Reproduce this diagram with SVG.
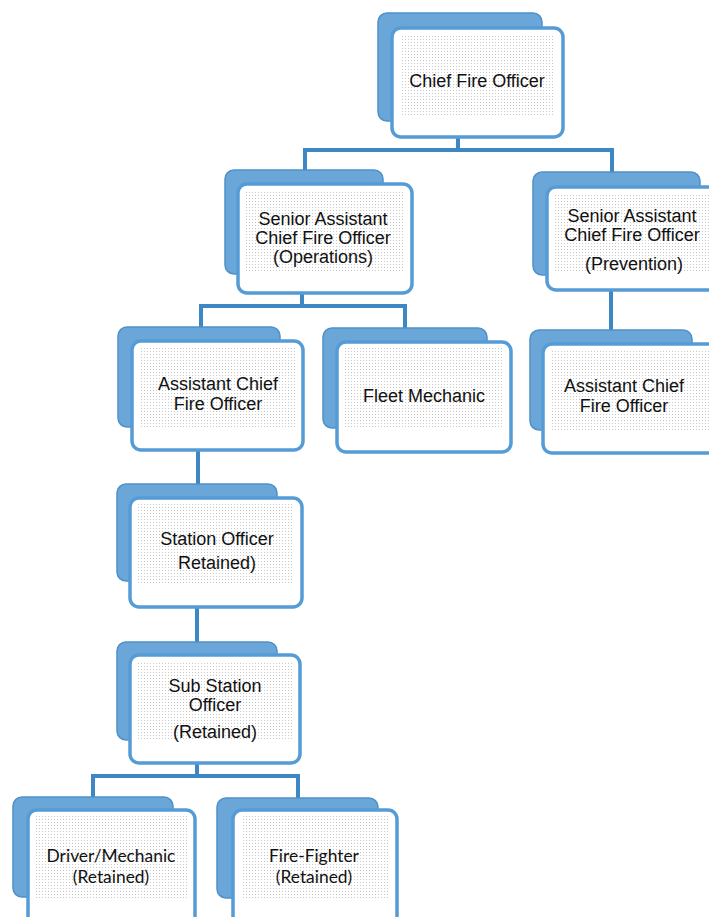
<svg xmlns="http://www.w3.org/2000/svg" width="709" height="917" viewBox="0 0 709 917">
<defs>
<pattern id="dots" width="3" height="3" patternUnits="userSpaceOnUse">
<rect x="0" y="0" width="1" height="1" fill="#c9c9c9"/>
</pattern>
</defs>
<style>
.back{fill:#6aa6d8;stroke:#4f91c8;stroke-width:1.5}
.front{fill:#ffffff;stroke:#559cd6;stroke-width:3.5}
.dot{fill:url(#dots)}
.t{font-family:"Liberation Sans",Arial,sans-serif;font-size:18px;fill:#111111;text-anchor:middle}
.c{font-family:Lato,"Open Sans",sans-serif;font-size:17.4px;fill:#111111;text-anchor:middle}
.conn{fill:none;stroke:#3d88c4;stroke-width:4}
</style>
<rect width="709" height="917" fill="#ffffff"/>
<g id="connectors">
<path class="conn" d="M458 137 V150 M305 150 H612 M305 148 V172 M612 148 V174"/>
<path class="conn" d="M302 293 V306 M201 306 H405 M201 304 V328 M405 304 V328"/>
<path class="conn" d="M611 290 V332"/>
<path class="conn" d="M198 450 V484"/>
<path class="conn" d="M197 607 V643"/>
<path class="conn" d="M197 763 V776 M93 776 H298 M93 774 V798 M298 774 V799"/>
</g>
<g id="n1">
<rect class="back" x="378" y="13" width="164" height="108" rx="9"/>
<rect class="front" x="392" y="28" width="171" height="109" rx="9"/>
<rect class="dot" x="400" y="34" width="155" height="82"/>
<text class="t" x="477" y="87">Chief Fire Officer</text>
</g>
<g id="n2">
<rect class="back" x="225" y="170" width="158" height="104" rx="9"/>
<rect class="front" x="238" y="184" width="174" height="109" rx="9"/>
<rect class="dot" x="246" y="190" width="158" height="82"/>
<text class="t" x="323" y="225">Senior Assistant</text>
<text class="t" x="323" y="244">Chief Fire Officer</text>
<text class="t" x="323" y="263">(Operations)</text>
</g>
<g id="n3">
<rect class="back" x="533" y="172" width="167" height="103" rx="9"/>
<rect class="front" x="547" y="187" width="172" height="103" rx="9"/>
<rect class="dot" x="555" y="193" width="154" height="78"/>
<text class="t" x="632" y="222">Senior Assistant</text>
<text class="t" x="632" y="241">Chief Fire Officer</text>
<text class="t" x="634" y="270">(Prevention)</text>
</g>
<g id="n4">
<rect class="back" x="118" y="327" width="162" height="100" rx="9"/>
<rect class="front" x="132" y="341" width="171" height="109" rx="9"/>
<rect class="dot" x="140" y="347" width="155" height="80"/>
<text class="t" x="218" y="390">Assistant Chief</text>
<text class="t" x="218" y="410">Fire Officer</text>
</g>
<g id="n5">
<rect class="back" x="323" y="328" width="164" height="100" rx="9"/>
<rect class="front" x="337" y="342" width="174" height="110" rx="9"/>
<rect class="dot" x="345" y="348" width="158" height="80"/>
<text class="t" x="424" y="402">Fleet Mechanic</text>
</g>
<g id="n6">
<rect class="back" x="530" y="330" width="162" height="100" rx="9"/>
<rect class="front" x="543" y="344" width="176" height="109" rx="9"/>
<rect class="dot" x="551" y="350" width="158" height="80"/>
<text class="t" x="624" y="392">Assistant Chief</text>
<text class="t" x="624" y="412">Fire Officer</text>
</g>
<g id="n7">
<rect class="back" x="117" y="484" width="160" height="97" rx="9"/>
<rect class="front" x="130" y="498" width="172" height="109" rx="9"/>
<rect class="dot" x="138" y="504" width="156" height="80"/>
<text class="t" x="217" y="545">Station Officer</text>
<text class="t" x="217" y="569">Retained)</text>
</g>
<g id="n8">
<rect class="back" x="117" y="642" width="160" height="98" rx="9"/>
<rect class="front" x="130" y="655" width="170" height="108" rx="9"/>
<rect class="dot" x="138" y="661" width="154" height="80"/>
<text class="t" x="215" y="692">Sub Station</text>
<text class="t" x="215" y="711">Officer</text>
<text class="t" x="215" y="738">(Retained)</text>
</g>
<g id="n9">
<rect class="back" x="13" y="797" width="160" height="100" rx="9"/>
<rect class="front" x="28" y="810" width="167" height="118" rx="9"/>
<rect class="dot" x="36" y="816" width="151" height="84"/>
<text class="c" x="111" y="862">Driver/Mechanic</text>
<text class="c" x="111" y="883">(Retained)</text>
</g>
<g id="n10">
<rect class="back" x="217" y="798" width="161" height="100" rx="9"/>
<rect class="front" x="233" y="810" width="164" height="118" rx="9"/>
<rect class="dot" x="241" y="816" width="148" height="84"/>
<text class="c" x="314" y="862">Fire-Fighter</text>
<text class="c" x="314" y="883">(Retained)</text>
</g>
</svg>
